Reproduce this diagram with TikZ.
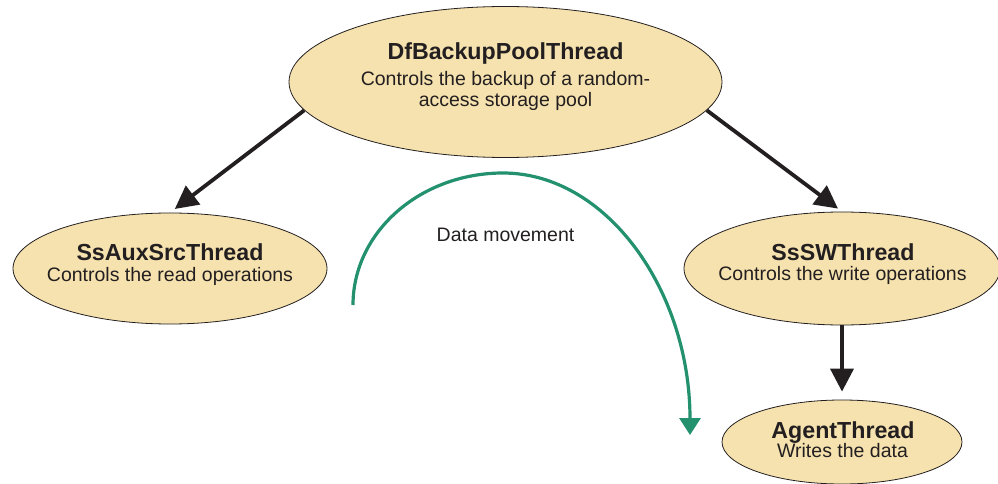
\documentclass[tikz,border=0pt]{standalone}
\usepackage{fontspec}
\setmainfont{Liberation Sans}
\usetikzlibrary{arrows.meta,shapes.geometric}
\definecolor{ink}{HTML}{231F20}
\definecolor{tan}{HTML}{F6E2AE}
\definecolor{flowgreen}{HTML}{23916E}
\tikzset{
  blob/.style={ellipse, draw=ink, line width=0.8pt, fill=tan, inner sep=0pt},
  lbl/.style={anchor=base, inner sep=0pt, text=ink, font=\fontsize{19.5}{21}\selectfont},
  ttl/.style={anchor=base, inner sep=0pt, text=ink, font=\fontsize{23.2}{27}\selectfont\bfseries},
  link/.style={draw=ink, line width=3.8pt, -{Triangle[length=23pt,width=23pt]}},
  flow/.style={draw=flowgreen, line width=3.2pt, -{Triangle[length=17pt,width=21pt]}}
}
\begin{document}
\begin{tikzpicture}[x=1pt,y=-1pt]
\useasboundingbox (0,0) rectangle (998,484);
% ellipses
\node[blob, minimum width=433pt, minimum height=151pt] (top) at (505.5,82) {};
\node[blob, minimum width=314pt, minimum height=111pt] (left) at (170,268.5) {};
\node[blob, minimum width=316pt, minimum height=113pt] (ssw) at (842,268.5) {};
\node[blob, minimum width=240pt, minimum height=84pt] (agent) at (842,442) {};
% texts
\node[ttl] (topT) at (505.5,59.3) {DfBackupPoolThread};
\node[lbl] (topS1) at (505.5,85.5) {Controls the backup of a random-};
\node[lbl] (topS2) at (505.5,106.7) {access storage pool};
\node[ttl] (leftT) at (170,260.7) {SsAuxSrcThread};
\node[lbl] (leftS) at (170,281.7) {Controls the read operations};
\node[ttl] (sswT) at (843,260) {SsSWThread};
\node[lbl] (sswS) at (842.5,280) {Controls the write operations};
\node[ttl] (agentT) at (843,438.3) {AgentThread};
\node[lbl] (agentS) at (842.5,457.7) {Writes the data};
\node[lbl] (dm) at (505.5,241) {Data movement};
% connectors
\draw[link, shorten >=6pt] (top.188) -- (left.north);
\draw[link, shorten >=5pt] (top.352) -- (ssw.north);
\draw[link, shorten >=8pt] (ssw.south) -- (agent.north);
% data movement arc
\coordinate (gs) at (353,305);
\coordinate (gt) at (503,173);
\coordinate (ge) at (690,435);
\draw[flow] (gs) .. controls (353,232.1) and (420.2,173) .. (gt)
  .. controls (606.3,173) and (690,290.3) .. (ge);
\end{tikzpicture}
\end{document}
